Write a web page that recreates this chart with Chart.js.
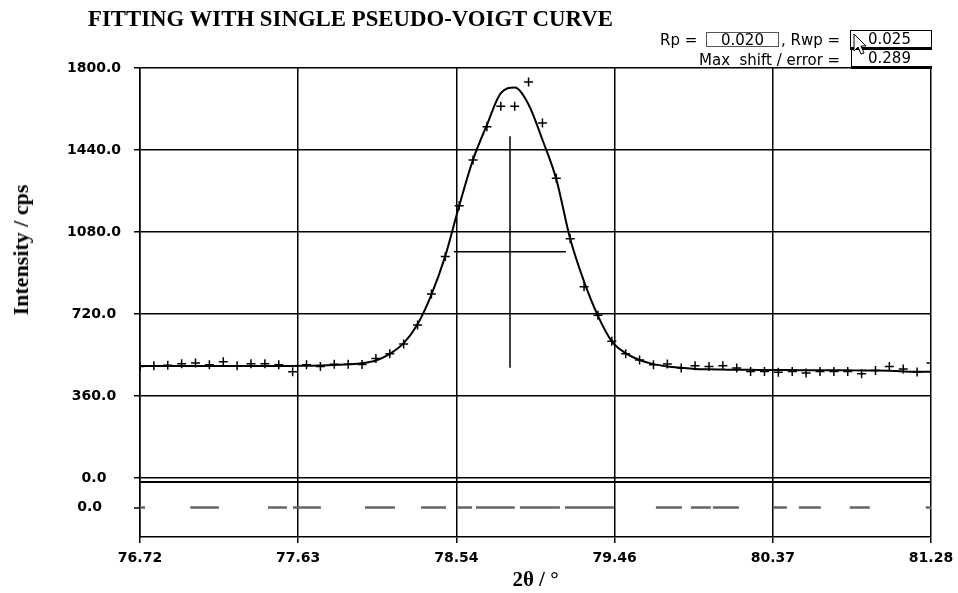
<!DOCTYPE html>
<html>
<head>
<meta charset="utf-8">
<script src="https://cdn.jsdelivr.net/npm/chart.js@4.4.1/dist/chart.umd.min.js"></script>
<style>
  html, body { margin:0; padding:0; background:#fff; }
  #wrap { position:relative; width:958px; height:593px; overflow:hidden; background:#fff; }
  #c { position:absolute; left:0; top:0; }
  .txt { position:absolute; white-space:nowrap; color:#000; }
  #title { left:88px; top:8px; font:bold 22.8px/22px "Liberation Serif", serif; }
  #ytitle { left:21px; top:250px; font:bold 22px/22px "Liberation Serif", serif; transform:translate(-50%,-50%) rotate(-90deg); }
  .info { font:15px/18px "DejaVu Sans", sans-serif; }
  .box { position:absolute; box-sizing:border-box; font:15px/15px "DejaVu Sans", sans-serif; color:#000; background:#fff; }
</style>
</head>
<body>
<div id="wrap">
  <canvas id="c" width="958" height="593"></canvas>
  <div class="txt" id="title">FITTING WITH SINGLE PSEUDO-VOIGT CURVE</div>
  <div class="txt" id="ytitle">Intensity / cps</div>
  <div class="txt info" style="left:660px;top:31px;">Rp =</div>
  <div class="box" style="left:706px;top:32px;width:73px;height:15px;border:1px solid #555;text-align:center;">0.020</div>
  <div class="txt info" style="left:781px;top:31px;">, Rwp =</div>
  <div class="box" style="left:850px;top:30px;width:82px;height:20px;border:1px solid #000;border-bottom:3px solid #000;padding-left:17px;padding-top:1px;">0.025</div>
  <div class="txt info" style="left:699px;top:51px;">Max&nbsp; shift / error =</div>
  <div class="box" style="left:851px;top:50px;width:81px;height:19px;border-left:1px solid #000;border-bottom:3px solid #000;padding-left:16px;padding-top:1px;">0.289</div>
  <svg style="position:absolute;left:853px;top:33px;" width="16" height="26"><path d="M1 1 L1 18 L5 14 L8 21 L11 20 L8 13 L13 13 Z" fill="#fff" stroke="#000" stroke-width="1"/></svg>
</div>
<script>
// ---- data ----
const twoTheta = [76.72,76.80,76.88,76.96,77.04,77.12,77.20,77.28,77.36,77.44,77.52,77.60,77.68,77.76,77.84,77.92,78.00,78.08,78.16,78.24,78.32,78.40,78.48,78.56,78.64,78.72,78.80,78.88,78.96,79.04,79.12,79.20,79.28,79.36,79.44,79.52,79.60,79.68,79.76,79.84,79.92,80.00,80.08,80.16,80.24,80.32,80.40,80.48,80.56,80.64,80.72,80.80,80.88,80.96,81.04,81.12,81.20,81.28];
const observedIntensity = [490,493,495,502,505,497,510,493,502,502,497,467,497,489,499,499,498,525,546,588,672,808,972,1195,1396,1542,1632,1632,1738,1558,1316,1050,840,714,600,546,518,497,500,483,493,490,493,483,468,468,464,468,461,468,468,468,458,472,490,479,465,505];
const calculatedIntensity = [492,492,492,492,492,492,492,492,492,492,492,492,493,494,496,499,504,516,545,592,675,805,975,1195,1398,1550,1690,1714,1640,1485,1312,1050,862,712,600,548,518,500,490,484,479,477,476,475,475,474,474,474,473,473,473,473,472,472,471,468,467,467];
const xTickValues = [76.72,77.632,78.544,79.456,80.368,81.28];
const xTickLabels = ['76.72','77.63','78.54','79.46','80.37','81.28'];
const yTickValues = [0,360,720,1080,1440,1800];
const yTickLabels = ['0.0','360.0','720.0','1080.0','1440.0','1800.0'];
const peakCentre = [78.853];
const peakMarkerRange = [484,1500];
const fwhmRange = [78.53,79.175];
const fwhmLevel = [993];
const differenceDashStart = [76.72,77.01,77.458,77.602,78.017,78.340,78.547,78.657,78.910,79.170,79.694,79.896,80.023,80.368,80.518,80.812,81.250];
const differenceDashEnd   = [76.749,77.175,77.567,77.763,78.190,78.484,78.634,78.881,79.141,79.452,79.844,80.011,80.173,80.449,80.645,80.927,81.28];
const differenceValue = 0;

// ---- build datasets ----
const obsPts = twoTheta.map((x,i)=>({x:x,y:observedIntensity[i]}));
const calcPts = twoTheta.map((x,i)=>({x:x,y:calculatedIntensity[i]}));
const diffPts = [];
differenceDashStart.forEach((s,i)=>{
  diffPts.push({x:s,y:differenceValue});
  diffPts.push({x:differenceDashEnd[i],y:differenceValue});
  if (i < differenceDashStart.length-1) diffPts.push({x:(differenceDashEnd[i]+differenceDashStart[i+1])/2,y:null});
});

const tickFont = {family:'"DejaVu Sans", sans-serif', weight:'bold', size:14};

new Chart(document.getElementById('c'), {
  type:'line',
  data:{datasets:[
    {label:'Calculated', data:calcPts, yAxisID:'y', borderColor:'#000', borderWidth:2, pointRadius:0, cubicInterpolationMode:'monotone', fill:false},
    {label:'Observed', data:obsPts, yAxisID:'y', showLine:false, pointStyle:'cross', pointRadius:4.5, pointBorderWidth:1.5, pointBorderColor:'#000', borderColor:'#000'},
    {label:'Peak position', data:[{x:peakCentre[0],y:peakMarkerRange[0]},{x:peakCentre[0],y:peakMarkerRange[1]}], yAxisID:'y', borderColor:'#000', borderWidth:1.5, pointRadius:0},
    {label:'FWHM', data:[{x:fwhmRange[0],y:fwhmLevel[0]},{x:fwhmRange[1],y:fwhmLevel[0]}], yAxisID:'y', borderColor:'#000', borderWidth:1.5, pointRadius:0},
    {label:'Difference', data:diffPts, yAxisID:'yr', borderColor:'#666', borderWidth:2.5, pointRadius:0, spanGaps:false}
  ]},
  options:{
    responsive:false, animation:false, devicePixelRatio:1,
    layout:{padding:{top:68,left:45,right:27,bottom:0}},
    plugins:{legend:{display:false}, tooltip:{enabled:false}, title:{display:false}},
    scales:{
      x:{type:'linear', min:76.72, max:81.28,
         afterBuildTicks:s=>{s.ticks = xTickValues.map(v=>({value:v}));},
         afterFit:s=>{s.height = 56; s.paddingRight = 10; s.paddingLeft = 10;},
         ticks:{callback:(v,i)=>xTickLabels[i], font:tickFont, color:'#000', padding:7, maxRotation:0, autoSkip:false},
         grid:{color:'#000', lineWidth:1.5, tickLength:6},
         border:{color:'#000', width:1.5},
         title:{display:true, text:'2θ / °', color:'#000', font:{family:'"Liberation Serif", serif', weight:'bold', size:21, lineHeight:1}, padding:{top:0,bottom:2}}
      },
      yr:{type:'linear', position:'left', stack:'v', stackWeight:59, min:-30, max:30,
         afterBuildTicks:s=>{s.ticks = [{value:26},{value:0}];},
         afterFit:s=>{s.width = 95;},
         ticks:{callback:v=>v===0?'0.0':'', font:tickFont, color:'#000', padding:32, crossAlign:'near'},
         grid:{color:c=>(c.tick && c.tick.value===0)?'rgba(0,0,0,0)':'#000', lineWidth:2, tickLength:6,
               tickColor:c=>(c.tick && c.tick.value===0)?'#000':'rgba(0,0,0,0)', tickWidth:1.5},
         border:{color:'#000', width:1.5}
      },
      y:{type:'linear', position:'left', stack:'v', stackWeight:410, min:0, max:1800,
         afterBuildTicks:s=>{s.ticks = yTickValues.map(v=>({value:v}));},
         afterFit:s=>{s.width = 95;},
         ticks:{callback:(v,i)=>yTickLabels[i], font:tickFont, color:'#000', padding:13, crossAlign:'center'},
         grid:{color:'#000', lineWidth:1.5, tickLength:6},
         border:{color:'#000', width:1.5}
      }
    }
  }
});
</script>
</body>
</html>
